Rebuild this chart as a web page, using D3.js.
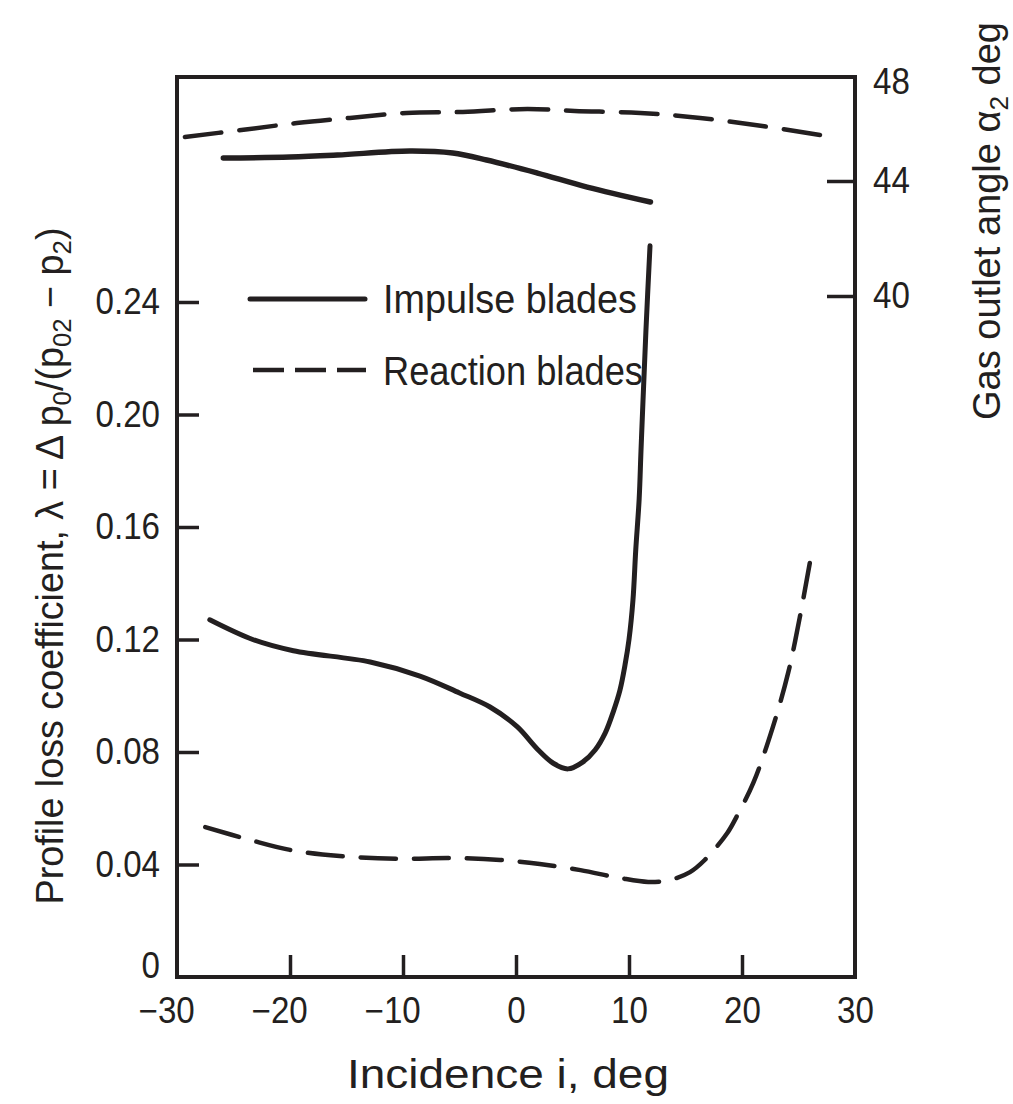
<!DOCTYPE html>
<html><head><meta charset="utf-8">
<script src="https://cdn.jsdelivr.net/npm/d3@7"></script>
<style>
body{margin:0;background:#fff}
text{font-family:"Liberation Sans",Arial,Helvetica,sans-serif;fill:#231f20}
</style>
</head><body>
<svg id="c" width="1013" height="1104"></svg>
<script>
// ---- data ----
const xTicks = [-30, -20, -10, 0, 10, 20, 30];
const lossTicks = [0, 0.04, 0.08, 0.12, 0.16, 0.20, 0.24];
const angleTicks = [40, 44, 48];

// Profile loss coefficient, impulse blades
const impulseLossInc = [-27.1, -23.3, -19.7, -12.9, -8.5, -5.0, -2.3, 0.1, 1.9, 3.3, 4.6, 5.9, 7.0, 7.9, 8.6, 9.2, 9.65, 10.0, 10.35, 10.6, 10.9, 11.06, 11.24, 11.5, 11.86];
const impulseLoss    = [0.127, 0.120, 0.116, 0.112, 0.107, 0.101, 0.096, 0.089, 0.081, 0.076, 0.074, 0.0764, 0.0807, 0.0868, 0.0942, 0.102, 0.111, 0.120, 0.134, 0.152, 0.170, 0.187, 0.205, 0.230, 0.260];

// Profile loss coefficient, reaction blades
const reactionLossInc = [-27.5, -23.5, -20.0, -15.6, -10.3, -5.8, -1.4, 2.1, 5.7, 9.2, 11.7, 13.6, 15.4, 16.7, 18.7, 19.6, 21.0, 22.7, 24.1, 25.1, 26.0];
const reactionLoss    = [0.0533, 0.0487, 0.0452, 0.0430, 0.0420, 0.0423, 0.0416, 0.0402, 0.0380, 0.0352, 0.0338, 0.0345, 0.0373, 0.0416, 0.0512, 0.0576, 0.0690, 0.0885, 0.1084, 0.1276, 0.1472];

// Gas outlet angle, impulse blades
const impulseAngleInc = [-25.9, -20.0, -15.8, -9.4, -5.6, -2.6, 1.9, 6.3, 11.9];
const impulseAngle    = [44.93, 44.97, 45.05, 45.21, 45.13, 44.85, 44.32, 43.79, 43.27];

// Gas outlet angle, reaction blades
const reactionAngleInc = [-29.3, -24.3, -19.4, -14.7, -9.7, -4.7, 1.0, 5.2, 11.0, 16.3, 21.8, 26.9];
const reactionAngle    = [45.78, 46.06, 46.34, 46.55, 46.75, 46.79, 46.91, 46.83, 46.75, 46.55, 46.22, 45.86];

const legendLabels = ["Impulse blades", "Reaction blades"];

// ---- layout ----
const ink = "#231f20";
const L = 177, R = 855, T = 77, B = 977;
const svg = d3.select("#c");

const x = d3.scaleLinear().domain([-30, 30]).range([L, R]);
const yL = d3.scaleLinear().domain([0, 0.32]).range([B, T]);
const yR = d3.scaleLinear().domain([40, 44, 48]).range([296, 181, 82]);

function condense(sel, k) {
  sel.each(function () {
    const w = this.getComputedTextLength();
    d3.select(this).attr("textLength", w * k).attr("lengthAdjust", "spacingAndGlyphs");
  });
}
// fit a dash pattern so that the line starts and ends with a dash
function fitDash(path, dash, gap) {
  const len = path.node().getTotalLength();
  const n = Math.max(1, Math.round((len + gap) / (dash + gap)));
  const d = (len + gap) / n - gap;
  path.attr("stroke-dasharray", `${d},${gap}`);
}

// frame
svg.append("rect")
  .attr("x", x(-30)).attr("y", yL(0.32))
  .attr("width", x(30) - x(-30)).attr("height", yL(0) - yL(0.32))
  .attr("fill", "none").attr("stroke", ink).attr("stroke-width", 4);

// x axis
const gx = svg.append("g").attr("transform", `translate(0,${B})`)
  .call(d3.axisBottom(x).tickValues(xTicks).tickSizeInner(-22).tickSizeOuter(0).tickPadding(20)
    .tickFormat(d => d < 0 ? "\u2212" + Math.abs(d) : String(d)));
gx.select(".domain").remove();
gx.selectAll(".tick line").attr("stroke", ink).attr("stroke-width", 3.5)
  .filter(d => d === -30 || d === 30).remove();
gx.selectAll(".tick text").attr("font-size", 36).attr("fill", ink).attr("font-family", null)
  .attr("dx", d => d < 0 ? "-0.3em" : 0);
condense(gx.selectAll(".tick text"), 0.92);

// left axis
const gl = svg.append("g").attr("transform", `translate(${L},0)`)
  .call(d3.axisLeft(yL).tickValues(lossTicks).tickSizeInner(-22).tickSizeOuter(0).tickPadding(17)
    .tickFormat(d => d === 0 ? "0" : d3.format(".2f")(d)));
gl.select(".domain").remove();
gl.selectAll(".tick line").attr("stroke", ink).attr("stroke-width", 3.5)
  .filter(d => d === 0).remove();
gl.selectAll(".tick text").attr("font-size", 36).attr("fill", ink).attr("font-family", null)
  .attr("y", d => d === 0 ? -11 : 0);
condense(gl.selectAll(".tick text"), 0.92);

// right axis
const gr = svg.append("g").attr("transform", `translate(${R},0)`)
  .call(d3.axisRight(yR).tickValues(angleTicks).tickSizeInner(-28).tickSizeOuter(0).tickPadding(18));
gr.select(".domain").remove();
gr.selectAll(".tick line").attr("stroke", ink).attr("stroke-width", 3.5)
  .filter(d => d === 48).remove();
gr.selectAll(".tick text").attr("font-size", 36).attr("fill", ink).attr("font-family", null);
condense(gr.selectAll(".tick text"), 0.92);

// curves
const lineL = d3.line().x(d => x(d[0])).y(d => yL(d[1])).curve(d3.curveCatmullRom.alpha(0.5));
const lineR = d3.line().x(d => x(d[0])).y(d => yR(d[1])).curve(d3.curveCatmullRom.alpha(0.5));
const zip = (a, b) => a.map((v, i) => [v, b[i]]);

svg.append("path").attr("d", lineL(zip(impulseLossInc, impulseLoss)))
  .attr("fill", "none").attr("stroke", ink).attr("stroke-width", 5).attr("stroke-linecap", "round")
  .attr("stroke-linejoin", "round");
const rl = svg.append("path").attr("d", lineL(zip(reactionLossInc, reactionLoss)))
  .attr("fill", "none").attr("stroke", ink).attr("stroke-width", 4.5).attr("stroke-linecap", "round");
fitDash(rl, 34, 18);
svg.append("path").attr("d", lineR(zip(impulseAngleInc, impulseAngle)))
  .attr("fill", "none").attr("stroke", ink).attr("stroke-width", 5.5).attr("stroke-linecap", "round");
const ra = svg.append("path").attr("d", lineR(zip(reactionAngleInc, reactionAngle)))
  .attr("fill", "none").attr("stroke", ink).attr("stroke-width", 4.5).attr("stroke-linecap", "round");
fitDash(ra, 38, 18);

// legend
const lg = svg.append("g");
lg.append("line").attr("x1", 250).attr("x2", 365).attr("y1", 299).attr("y2", 299)
  .attr("stroke", ink).attr("stroke-width", 5).attr("stroke-linecap", "round");
lg.append("line").attr("x1", 253).attr("x2", 366).attr("y1", 370).attr("y2", 370)
  .attr("stroke", ink).attr("stroke-width", 4.5).attr("stroke-dasharray", "31,11");
const lt = lg.selectAll("text.lg").data(legendLabels).join("text").attr("class", "lg")
  .attr("x", 383).attr("y", (d, i) => i === 0 ? 313 : 385)
  .attr("font-size", 40).text(d => d);
lt.each(function (d, i) {
  d3.select(this).attr("textLength", i === 0 ? 254 : 260).attr("lengthAdjust", "spacingAndGlyphs");
});

// x title
svg.append("text").attr("x", 508).attr("y", 1088).attr("text-anchor", "middle")
  .attr("font-size", 40).text("Incidence i, deg")
  .attr("textLength", 322).attr("lengthAdjust", "spacingAndGlyphs");

// left title
const tl = svg.append("text").attr("transform", "translate(63,566) rotate(-90)")
  .attr("text-anchor", "middle").attr("font-size", 38)
  .attr("textLength", 677).attr("lengthAdjust", "spacingAndGlyphs");
tl.append("tspan").text("Profile loss coefficient, \u03bb = \u0394 p");
tl.append("tspan").attr("font-size", 26).attr("dy", 8).text("0");
tl.append("tspan").attr("dy", -8).text("/(p");
tl.append("tspan").attr("font-size", 26).attr("dy", 8).text("02");
tl.append("tspan").attr("dy", -8).text(" \u2212 p");
tl.append("tspan").attr("font-size", 26).attr("dy", 8).text("2");
tl.append("tspan").attr("dy", -8).text(")");

// right title
const tr = svg.append("text").attr("transform", "translate(1000,221) rotate(-90)")
  .attr("text-anchor", "middle").attr("font-size", 38)
  .attr("textLength", 398).attr("lengthAdjust", "spacingAndGlyphs");
tr.append("tspan").text("Gas outlet angle \u03b1");
tr.append("tspan").attr("font-size", 26).attr("dy", 8).text("2");
tr.append("tspan").attr("dy", -8).text(" deg");
</script>
</body></html>
